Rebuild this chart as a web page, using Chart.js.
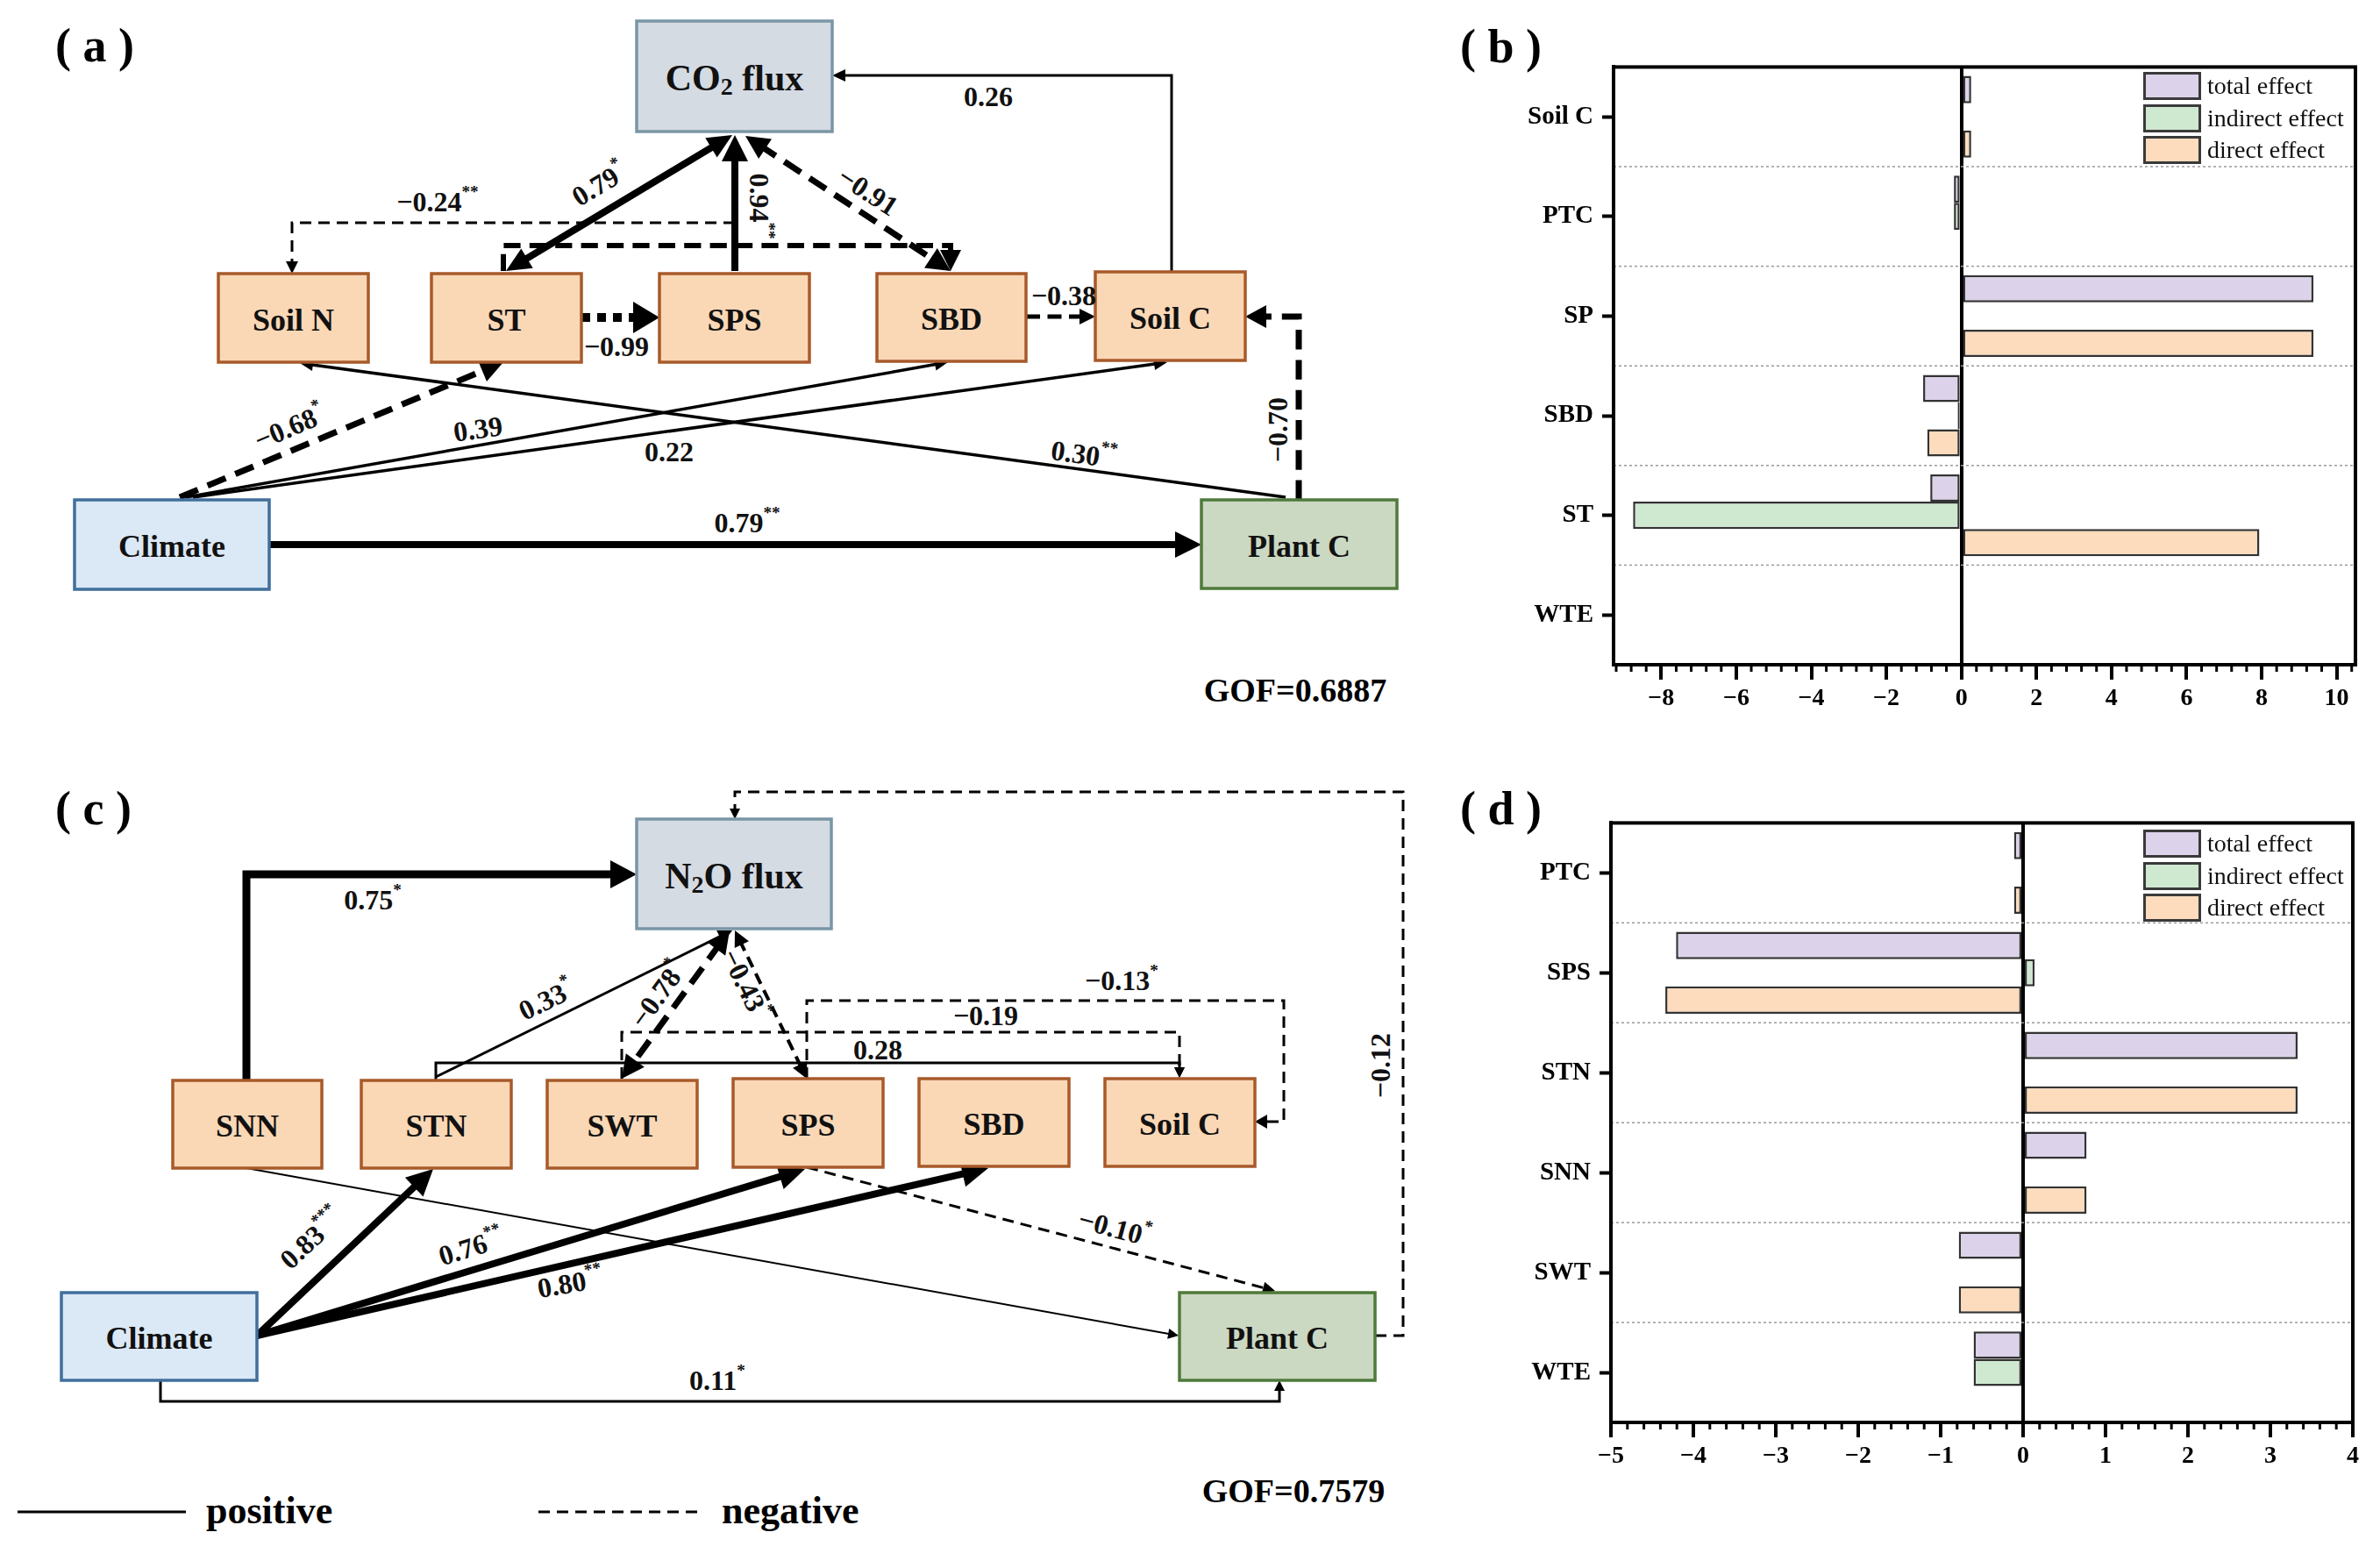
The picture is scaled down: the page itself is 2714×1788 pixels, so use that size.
<!DOCTYPE html>
<html>
<head>
<meta charset="utf-8">
<script src="https://cdn.jsdelivr.net/npm/chart.js@4.4.1/dist/chart.umd.min.js"></script>
<style>
  html,body{margin:0;padding:0;background:#fff;}
  body{width:2714px;height:1788px;position:relative;overflow:hidden;font-family:"Liberation Serif","Times New Roman",serif;}
  #diag{position:absolute;left:0;top:0;}
  .cv{position:absolute;}
  .plab{position:absolute;font-weight:bold;font-size:54px;line-height:1;}
  .leg{position:absolute;font-size:28px;color:#111;}
  .leg div{height:36.5px;display:flex;align-items:center;}
  .leg span.b{display:inline-block;width:60px;height:26px;border:3px solid #3a3a3a;margin-right:7px;box-sizing:content-box;}
</style>
</head>
<body>
<svg id="diag" width="1660" height="1788" viewBox="0 0 1660 1788" xmlns="http://www.w3.org/2000/svg"></svg>
<div class="plab" style="left:1665px;top:26px;">( b )</div>
<div class="plab" style="left:1665px;top:895px;">( d )</div>
<canvas id="cb" class="cv" width="1010" height="791" style="left:1700px;top:49px;width:1010px;height:791px;"></canvas>
<canvas id="cd" class="cv" width="1010" height="799" style="left:1700px;top:911px;width:1010px;height:799px;"></canvas>
<div class="leg" style="left:2444px;top:80px;">
  <div><span class="b" style="background:#dcd3ea"></span>total effect</div>
  <div><span class="b" style="background:#cfe8d0"></span>indirect effect</div>
  <div><span class="b" style="background:#fcdcbd"></span>direct effect</div>
</div>
<div class="leg" style="left:2444px;top:944px;">
  <div><span class="b" style="background:#dcd3ea"></span>total effect</div>
  <div><span class="b" style="background:#cfe8d0"></span>indirect effect</div>
  <div><span class="b" style="background:#fcdcbd"></span>direct effect</div>
</div>
<script>
// ---------------- DATA: panel (b) ----------------
const catsB = ['Soil C','PTC','SP','SBD','ST','WTE'];
const totalB = [0.26, -0.2, 9.38, -1.02, -0.83, 0.04];
const indirectB = [null, -0.2, null, -0.1, -8.75, 0.04];
const directB = [0.26, null, 9.38, -0.91, 7.94, null];
const ticksB = [-8,-6,-4,-2,0,2,4,6,8,10];

// ---------------- DATA: panel (d) ----------------
const catsD = ['PTC','SPS','STN','SNN','SWT','WTE'];
const totalD = [-0.11, -4.21, 3.33, 0.77, -0.78, -0.6];
const indirectD = [null, 0.14, null, null, null, -0.6];
const directD = [-0.11, -4.34, 3.33, 0.77, -0.78, null];
const ticksD = [-5,-4,-3,-2,-1,0,1,2,3,4];

const seriesNames = ['total effect','indirect effect','direct effect'];
const seriesColors = ['#dcd3ea','#cfe8d0','#fcdcbd'];

// ---------------- bar charts ----------------
const FONT = '"Liberation Serif","Times New Roman",serif';
const fmt = v => (v < 0 ? '\u2212' + Math.abs(v) : String(v));

function frameAndMinor(minorStep, majorStep){
  return {
    id:'frameMinor',
    beforeDatasetsDraw(chart){
      const ca = chart.chartArea, ctx = chart.ctx, ys = chart.scales.y;
      ctx.save();
      ctx.strokeStyle = '#9a9a9a'; ctx.lineWidth = 1.5; ctx.setLineDash([3,3]);
      for(let i=0;i<ys.ticks.length-1;i++){
        const y = (ys.getPixelForTick(i)+ys.getPixelForTick(i+1))/2;
        ctx.beginPath(); ctx.moveTo(ca.left, y); ctx.lineTo(ca.right, y); ctx.stroke();
      }
      ctx.restore();
    },
    afterDraw(chart){
      const ca = chart.chartArea, ctx = chart.ctx, xs = chart.scales.x;
      ctx.save();
      ctx.strokeStyle = '#000'; ctx.lineWidth = 4;
      ctx.strokeRect(ca.left, ca.top, ca.right-ca.left, ca.bottom-ca.top);
      ctx.lineWidth = 3;
      const start = Math.ceil(xs.min/minorStep - 1e-9);
      const end = Math.floor(xs.max/minorStep + 1e-9);
      for(let k=start;k<=end;k++){
        const v = k*minorStep;
        if (Math.abs(v/majorStep - Math.round(v/majorStep)) < 1e-6) continue;
        const x = xs.getPixelForValue(v);
        ctx.beginPath(); ctx.moveTo(x, ca.bottom); ctx.lineTo(x, ca.bottom+8); ctx.stroke();
      }
      ctx.restore();
    }
  };
}

function makeBar(id, cats, tot, ind, dir, ticks, xmin, xmax, minorStep, yW, xH, pad){
  const majorStep = ticks[1]-ticks[0];
  new Chart(document.getElementById(id), {
    type:'bar',
    data:{
      labels:cats,
      datasets:[tot,ind,dir].map((d,i)=>({
        label:seriesNames[i], data:d,
        backgroundColor:seriesColors[i], borderColor:'#333', borderWidth:2.5,
        borderSkipped:false, categoryPercentage:0.82, barPercentage:1.0
      }))
    },
    options:{
      indexAxis:'y', responsive:false, animation:false, devicePixelRatio:1,
      layout:{padding:pad},
      plugins:{legend:{display:false}, tooltip:{enabled:false}},
      scales:{
        x:{
          type:'linear', min:xmin, max:xmax,
          afterFit(s){ s.height = xH; },
          afterBuildTicks(s){ s.ticks = ticks.map(v=>({value:v})); },
          ticks:{ callback:v=>fmt(v), color:'#000', padding:5,
                  font:{family:FONT, size:28, weight:'bold'} },
          grid:{ drawOnChartArea:true, offset:false,
                 color:c=> (c.tick && c.tick.value===0) ? '#000' : 'rgba(0,0,0,0)',
                 lineWidth:c=> (c.tick && c.tick.value===0) ? 4 : 0,
                 tickColor:'#000', tickLength:17, tickWidth:4 },
          border:{display:true, color:'#000', width:4}
        },
        y:{
          type:'category',
          afterFit(s){ s.width = yW; },
          ticks:{ color:'#000', padding:10, font:{family:FONT, size:29, weight:'bold'} },
          grid:{ drawOnChartArea:false, offset:false, tickColor:'#000', tickLength:13, tickWidth:4 },
          border:{display:true, color:'#000', width:4}
        }
      }
    },
    plugins:[frameAndMinor(minorStep, majorStep)]
  });
}
makeBar('cb', catsB, totalB, indirectB, directB, ticksB, -9.27, 10.5, 0.4, 140, 82, {left:0, top:24, right:24, bottom:0});
makeBar('cd', catsD, totalD, indirectD, directD, ticksD, -5, 4, 0.2, 137, 88, {left:0, top:24, right:27, bottom:0});

// ---------------- path diagrams (SVG) ----------------
const svg = document.getElementById('diag');
let out = '';
const STY = {
  org:{fill:'#fad8b6', stroke:'#a85a2a'},
  flux:{fill:'#d5dbe3', stroke:'#7a96a5'},
  clim:{fill:'#dbe8f5', stroke:'#3f6f9c'},
  plant:{fill:'#cbd8c2', stroke:'#4f7a3a'}
};
function node(x1,y1,x2,y2,type,label,size){
  const s = STY[type];
  out += `<rect x="${x1}" y="${y1}" width="${x2-x1}" height="${y2-y1}" fill="${s.fill}" stroke="${s.stroke}" stroke-width="3.5"/>`;
  out += `<text x="${(x1+x2)/2}" y="${(y1+y2)/2+2}" text-anchor="middle" dominant-baseline="central" font-family='${FONT}' font-weight="bold" font-size="${size||36}" fill="#111">${label}</text>`;
}
function head(x1,y1,x2,y2,len,hw){
  const a = Math.atan2(y2-y1,x2-x1);
  const bx = x2-len*Math.cos(a), by = y2-len*Math.sin(a);
  const px = -Math.sin(a)*hw, py = Math.cos(a)*hw;
  return `<polygon points="${x2},${y2} ${bx+px},${by+py} ${bx-px},${by-py}" fill="#000"/>`;
}
function edge(pts, w, style, endA, startA, ah){
  const len = ah ? ah[0] : 6+3*w, hw = ah ? ah[1] : 3+1.5*w;
  const p = pts.map(q=>q.slice());
  const shorten = (a,b)=>{ const dx=b[0]-a[0], dy=b[1]-a[1], L=Math.hypot(dx,dy); b[0]-=dx/L*len*0.7; b[1]-=dy/L*len*0.7; };
  if(endA) shorten(p[p.length-2], p[p.length-1]);
  if(startA) shorten(p[1], p[0]);
  let dash = '';
  if(style==='dash') dash = w>=5 ? `stroke-dasharray="${3.2*w},${1.7*w}"` : `stroke-dasharray="13,8"`;
  if(style==='dot') dash = `stroke-dasharray="${w},${0.8*w}"`;
  out += `<polyline points="${p.map(q=>q.join(',')).join(' ')}" fill="none" stroke="#000" stroke-width="${w}" stroke-linejoin="miter" stroke-linecap="butt" ${dash}/>`;
  if(endA){ const a=pts[pts.length-2], b=pts[pts.length-1]; out += head(a[0],a[1],b[0],b[1],len,hw); }
  if(startA){ const a=pts[1], b=pts[0]; out += head(a[0],a[1],b[0],b[1],len,hw); }
}
function lab(x,y,t,sup,rot,size){
  size = size||32;
  const tr = rot ? `transform="rotate(${rot} ${x} ${y})"` : '';
  const s = sup ? `<tspan font-size="${size*0.6}" dy="${-size*0.38}">${sup}</tspan>` : '';
  out += `<text x="${x}" y="${y}" text-anchor="middle" dominant-baseline="central" font-family='${FONT}' font-weight="bold" font-size="${size}" fill="#111" ${tr}>${t}${s}</text>`;
}
const M = '\u2212';

// ===== panel (a) =====
out += `<text x="63" y="52" dominant-baseline="central" font-family='${FONT}' font-weight="bold" font-size="54">( a )</text>`;
edge([[574,309],[574,280],[1084,280],[1084,309]], 6, 'dash', true, false);
edge([[838,254],[333,254],[333,312]], 3, 'dash', true, false, [14,7]);
edge([[577,309],[835,154]], 8, 'solid', true, true, [28,13]);
edge([[838,309],[838,154]], 8, 'solid', true, false);
edge([[850,155],[1084,309]], 7, 'dash', true, true);
edge([[663,362],[752,362]], 10, 'dot', true, false, [30,18]);
edge([[1170,361],[1249,361]], 5, 'dash', true, false, [18,9]);
edge([[1336,310],[1336,86],[949,86]], 3, 'solid', true, false, [15,7]);
edge([[1481,570],[1481,361],[1420,361]], 7, 'dash', true, false, [24,13]);
edge([[307,621],[1370,621]], 8, 'solid', true, false);
edge([[205,567],[574,413]], 7, 'dash', true, false, [26,13]);
edge([[212,567],[1081,413]], 3.5, 'solid', true, false, [15,7]);
edge([[220,567],[1331,413]], 3.5, 'solid', true, false, [15,7]);
edge([[1466,567],[342,414]], 3.5, 'solid', true, false, [15,7]);
const co2 = `CO<tspan font-size="28" dy="9">2</tspan><tspan dy="-9"> flux</tspan>`;
node(726,24,949,150,'flux',co2,42);
node(249,312,420,413,'org','Soil N');
node(492,312,663,413,'org','ST');
node(752,312,923,413,'org','SPS');
node(1000,312,1170,412,'org','SBD');
node(1249,310,1420,411,'org','Soil C');
node(85,570,307,672,'clim','Climate');
node(1370,570,1593,671,'plant','Plant C');
lab(683,210,'0.79','*',-31);
lab(866,235,'0.94','**',90);
lab(990,218,M+'0.91','',33);
lab(499,230,M+'0.24','**');
lab(703,395,M+'0.99','');
lab(1213,337,M+'0.38','');
lab(1127,110,'0.26','');
lab(1457,490,M+'0.70','',-90);
lab(852,596,'0.79','**');
lab(330,487,M+'0.68','*',-23);
lab(545,489,'0.39','',-8);
lab(763,515,'0.22','');
lab(1236,518,'0.30','**',8);
out += `<text x="1477" y="787" text-anchor="middle" dominant-baseline="central" font-family='${FONT}' font-weight="bold" font-size="38">GOF=0.6887</text>`;

// ===== panel (c) =====
out += `<text x="63" y="922" dominant-baseline="central" font-family='${FONT}' font-weight="bold" font-size="54">( c )</text>`;
edge([[281,1232],[281,997],[726,997]], 9, 'solid', true, false, [30,16]);
edge([[497,1228],[835,1061]], 3, 'solid', true, false, [16,8]);
edge([[497,1232],[497,1212],[1345,1212],[1345,1229]], 3, 'solid', true, false, [12,6]);
edge([[709,1230],[709,1177],[1345,1177],[1345,1229]], 3, 'dash', true, false, [12,6]);
edge([[920,1230],[920,1141],[1464,1141],[1464,1279],[1431,1279]], 3, 'dash', true, false, [14,8]);
edge([[1568,1523],[1600,1523],[1600,903],[838,903],[838,934]], 3, 'dash', true, false, [12,6]);
edge([[832,1061],[709,1230]], 7, 'dash', true, true, [26,13]);
edge([[838,1061],[920,1230]], 4, 'dash', true, true, [18,9]);
edge([[920,1331],[1454,1472]], 3, 'dash', true, false, [14,7]);
edge([[281,1332],[1344,1523]], 2, 'solid', true, false, [12,6]);
edge([[293,1523],[494,1333]], 8, 'solid', true, false);
edge([[293,1523],[918,1333]], 8, 'solid', true, false);
edge([[293,1523],[1127,1332]], 8, 'solid', true, false);
edge([[183,1574],[183,1598],[1459,1598],[1459,1574]], 3, 'solid', true, false, [12,6]);
const n2o = `N<tspan font-size="28" dy="9">2</tspan><tspan dy="-9">O flux</tspan>`;
node(726,934,948,1059,'flux',n2o,42);
node(197,1232,367,1332,'org','SNN');
node(412,1232,583,1332,'org','STN');
node(624,1232,795,1332,'org','SWT');
node(836,1230,1007,1331,'org','SPS');
node(1048,1230,1219,1330,'org','SBD');
node(1260,1230,1431,1330,'org','Soil C');
node(70,1474,293,1574,'clim','Climate');
node(1345,1474,1568,1574,'plant','Plant C');
lab(425,1026,'0.75','*');
lab(623,1140,'0.33','*',-26);
lab(750,1134,M+'0.78','*',-54);
lab(850,1122,M+'0.43','*',64);
lab(1001,1197,'0.28','');
lab(1124,1158,M+'0.19','');
lab(1279,1118,M+'0.13','*');
lab(1574,1215,M+'0.12','',-90);
lab(1271,1400,M+'0.10','*',15);
lab(355,1412,'0.83','***',-43);
lab(537,1422,'0.76','**',-17);
lab(650,1463,'0.80','**',-10);
lab(818,1574,'0.11','*');
out += `<text x="1475" y="1700" text-anchor="middle" dominant-baseline="central" font-family='${FONT}' font-weight="bold" font-size="38">GOF=0.7579</text>`;
out += `<line x1="20" y1="1724" x2="212" y2="1724" stroke="#000" stroke-width="3"/>`;
out += `<text x="235" y="1722" dominant-baseline="central" font-family='${FONT}' font-weight="bold" font-size="44">positive</text>`;
out += `<line x1="614" y1="1724" x2="798" y2="1724" stroke="#000" stroke-width="3" stroke-dasharray="13,8"/>`;
out += `<text x="823" y="1722" dominant-baseline="central" font-family='${FONT}' font-weight="bold" font-size="44">negative</text>`;
svg.innerHTML = out;
</script>
</body>
</html>
